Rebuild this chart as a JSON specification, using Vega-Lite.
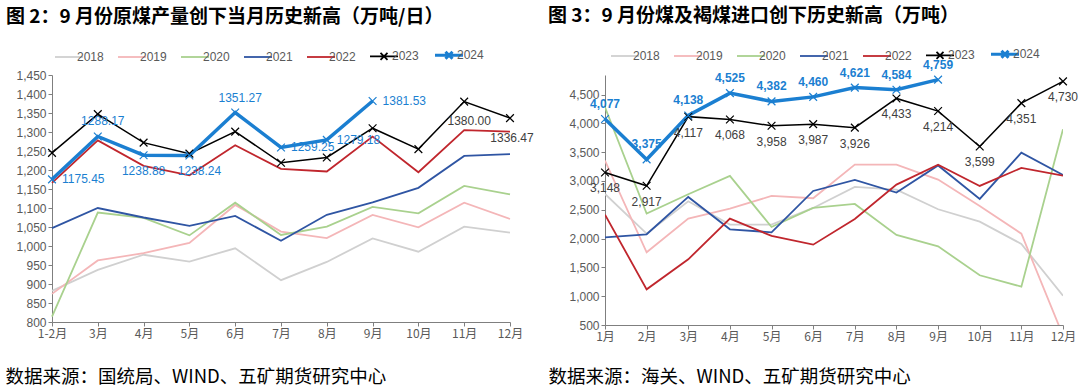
{
"$schema": "https://vega.github.io/schema/vega-lite/v6.json",
"padding": {"left": 5, "top": 7, "right": 0, "bottom": 0},
"background": "white",
"config": {"view": {"stroke": null}, "font": "Liberation Sans, Noto Sans CJK SC", "concat": {"spacing": 95}},
"resolve": {"scale": {"color": "independent", "x": "independent", "y": "independent"}, "legend": {"color": "independent"}},
"bounds": "flush",
"datasets": {
"prod": [
{"m":"1-2月","y":"2018","v":882},{"m":"3月","y":"2018","v":937},{"m":"4月","y":"2018","v":977},{"m":"5月","y":"2018","v":959},{"m":"6月","y":"2018","v":994},{"m":"7月","y":"2018","v":910},{"m":"8月","y":"2018","v":958},{"m":"9月","y":"2018","v":1020},{"m":"10月","y":"2018","v":985},{"m":"11月","y":"2018","v":1051},{"m":"12月","y":"2018","v":1035},
{"m":"1-2月","y":"2019","v":874},{"m":"3月","y":"2019","v":962},{"m":"4月","y":"2019","v":981},{"m":"5月","y":"2019","v":1008},{"m":"6月","y":"2019","v":1108},{"m":"7月","y":"2019","v":1038},{"m":"8月","y":"2019","v":1021},{"m":"9月","y":"2019","v":1082},{"m":"10月","y":"2019","v":1049},{"m":"11月","y":"2019","v":1114},{"m":"12月","y":"2019","v":1071},
{"m":"1-2月","y":"2020","v":814},{"m":"3月","y":"2020","v":1088},{"m":"4月","y":"2020","v":1074},{"m":"5月","y":"2020","v":1028},{"m":"6月","y":"2020","v":1114},{"m":"7月","y":"2020","v":1029},{"m":"8月","y":"2020","v":1051},{"m":"9月","y":"2020","v":1103},{"m":"10月","y":"2020","v":1086},{"m":"11月","y":"2020","v":1158},{"m":"12月","y":"2020","v":1136},
{"m":"1-2月","y":"2021","v":1047},{"m":"3月","y":"2021","v":1100},{"m":"4月","y":"2021","v":1075},{"m":"5月","y":"2021","v":1053},{"m":"6月","y":"2021","v":1079},{"m":"7月","y":"2021","v":1014},{"m":"8月","y":"2021","v":1082},{"m":"9月","y":"2021","v":1115},{"m":"10月","y":"2021","v":1153},{"m":"11月","y":"2021","v":1237},{"m":"12月","y":"2021","v":1242},
{"m":"1-2月","y":"2022","v":1166},{"m":"3月","y":"2022","v":1278},{"m":"4月","y":"2022","v":1211},{"m":"5月","y":"2022","v":1186},{"m":"6月","y":"2022","v":1265},{"m":"7月","y":"2022","v":1203},{"m":"8月","y":"2022","v":1196},{"m":"9月","y":"2022","v":1288},{"m":"10月","y":"2022","v":1194},{"m":"11月","y":"2022","v":1305},{"m":"12月","y":"2022","v":1301},
{"m":"1-2月","y":"2023","v":1245},{"m":"3月","y":"2023","v":1347},{"m":"4月","y":"2023","v":1272},{"m":"5月","y":"2023","v":1243},{"m":"6月","y":"2023","v":1301},{"m":"7月","y":"2023","v":1219},{"m":"8月","y":"2023","v":1233},{"m":"9月","y":"2023","v":1310},{"m":"10月","y":"2023","v":1255},{"m":"11月","y":"2023","v":1380.00},{"m":"12月","y":"2023","v":1336.47},
{"m":"1-2月","y":"2024","v":1175.45},{"m":"3月","y":"2024","v":1288.17},{"m":"4月","y":"2024","v":1238.88},{"m":"5月","y":"2024","v":1238.24},{"m":"6月","y":"2024","v":1351.27},{"m":"7月","y":"2024","v":1259.25},{"m":"8月","y":"2024","v":1279.18},{"m":"9月","y":"2024","v":1381.53}
],
"imp": [
{"m":"1月","y":"2018","v":2775},{"m":"2月","y":"2018","v":2086},{"m":"3月","y":"2018","v":2648},{"m":"4月","y":"2018","v":2242},{"m":"5月","y":"2018","v":2242},{"m":"6月","y":"2018","v":2532},{"m":"7月","y":"2018","v":2897},{"m":"8月","y":"2018","v":2850},{"m":"9月","y":"2018","v":2509},{"m":"10月","y":"2018","v":2295},{"m":"11月","y":"2018","v":1907},{"m":"12月","y":"2018","v":1009},
{"m":"1月","y":"2019","v":3354},{"m":"2月","y":"2019","v":1762},{"m":"3月","y":"2019","v":2347},{"m":"4月","y":"2019","v":2520},{"m":"5月","y":"2019","v":2740},{"m":"6月","y":"2019","v":2700},{"m":"7月","y":"2019","v":3284},{"m":"8月","y":"2019","v":3284},{"m":"9月","y":"2019","v":3024},{"m":"10月","y":"2019","v":2567},{"m":"11月","y":"2019","v":2086},{"m":"12月","y":"2019","v":316},
{"m":"1月","y":"2020","v":4280},{"m":"2月","y":"2020","v":2433},{"m":"3月","y":"2020","v":2769},{"m":"4月","y":"2020","v":3088},{"m":"5月","y":"2020","v":2202},{"m":"6月","y":"2020","v":2532},{"m":"7月","y":"2020","v":2601},{"m":"8月","y":"2020","v":2063},{"m":"9月","y":"2020","v":1866},{"m":"10月","y":"2020","v":1363},{"m":"11月","y":"2020","v":1166},{"m":"12月","y":"2020","v":3898},
{"m":"1月","y":"2021","v":2022},{"m":"2月","y":"2021","v":2075},{"m":"3月","y":"2021","v":2723},{"m":"4月","y":"2021","v":2161},{"m":"5月","y":"2021","v":2109},{"m":"6月","y":"2021","v":2827},{"m":"7月","y":"2021","v":3018},{"m":"8月","y":"2021","v":2798},{"m":"9月","y":"2021","v":3270},{"m":"10月","y":"2021","v":2688},{"m":"11月","y":"2021","v":3493},{"m":"12月","y":"2021","v":3105},
{"m":"1月","y":"2022","v":2416},{"m":"2月","y":"2022","v":1119},{"m":"3月","y":"2022","v":1640},{"m":"4月","y":"2022","v":2347},{"m":"5月","y":"2022","v":2046},{"m":"6月","y":"2022","v":1895},{"m":"7月","y":"2022","v":2341},{"m":"8月","y":"2022","v":2937},{"m":"9月","y":"2022","v":3284},{"m":"10月","y":"2022","v":2914},{"m":"11月","y":"2022","v":3227},{"m":"12月","y":"2022","v":3093},
{"m":"1月","y":"2023","v":3148},{"m":"2月","y":"2023","v":2917},{"m":"3月","y":"2023","v":4117},{"m":"4月","y":"2023","v":4068},{"m":"5月","y":"2023","v":3958},{"m":"6月","y":"2023","v":3987},{"m":"7月","y":"2023","v":3926},{"m":"8月","y":"2023","v":4433},{"m":"9月","y":"2023","v":4214},{"m":"10月","y":"2023","v":3599},{"m":"11月","y":"2023","v":4351},{"m":"12月","y":"2023","v":4730},
{"m":"1月","y":"2024","v":4077},{"m":"2月","y":"2024","v":3375},{"m":"3月","y":"2024","v":4138},{"m":"4月","y":"2024","v":4525},{"m":"5月","y":"2024","v":4382},{"m":"6月","y":"2024","v":4460},{"m":"7月","y":"2024","v":4621},{"m":"8月","y":"2024","v":4584},{"m":"9月","y":"2024","v":4759}
]
},
"hconcat": [
{
"width": 458, "height": 247,
"title": {"text": "图 2：9 月份原煤产量创下当月历史新高（万吨/日）", "anchor": "start", "frame": "group", "dx": -46, "offset": 22, "fontSize": 19, "fontWeight": "bold", "font": "Noto Sans CJK SC", "color": "#000000", "limit": 2000},
"data": {"name": "prod"},
"encoding": {
"x": {"field": "m", "type": "ordinal", "sort": ["1-2月","3月","4月","5月","6月","7月","8月","9月","10月","11月","12月"], "scale": {"type": "point", "padding": 0},
"axis": {"labelAngle": 0, "labelFontSize": 12, "labelColor": "#595959", "labelFont": "Noto Sans CJK SC", "domainColor": "#7f7f7f", "tickColor": "#7f7f7f", "tickSize": 4, "labelPadding": 2,
"title": "数据来源：国统局、WIND、五矿期货研究中心", "titleX": -47, "titleY": 60, "titleAlign": "left", "titleAnchor": "start", "titleBaseline": "alphabetic", "titleFontSize": 18.5, "titleFontWeight": "normal", "titleFont": "Noto Sans CJK SC", "titleColor": "#000000", "titleLimit": 2000}},
"y": {"field": "v", "type": "quantitative", "scale": {"domain": [800, 1450], "nice": false, "zero": false},
"axis": {"title": null, "values": [800,850,900,950,1000,1050,1100,1150,1200,1250,1300,1350,1400,1450], "format": ",.0f", "grid": false, "labelFontSize": 12, "labelColor": "#595959", "domainColor": "#7f7f7f", "tickColor": "#7f7f7f", "tickSize": 4}}
},
"layer": [
{"transform": [{"filter": "datum.y < '2023'"}], "mark": {"type": "line", "strokeWidth": 1.8},
 "encoding": {"color": {"field": "y", "type": "nominal", "scale": {"domain": ["2018","2019","2020","2021","2022","2023","2024"], "range": ["#d0d0d0","#f4b6b8","#a9d18e","#2f55a3","#c0262d","#000000","#1b7fd1"]},
 "legend": {"title": null, "orient": "none", "direction": "horizontal", "legendX": 11, "legendY": -26, "symbolType": "stroke", "symbolSize": 784, "symbolStrokeWidth": 1.8, "labelFontSize": 12, "labelColor": "#595959", "labelOffset": 2, "columnPadding": 10,
 "encode": {"symbols": {"update": {"shape": {"signal": "(datum.value==='2023'||datum.value==='2024') ? 'M-1,0L1,0M-0.25,-0.25L0.25,0.25M0.25,-0.25L-0.25,0.25' : 'M-1,0L1,0'"}, "strokeWidth": {"signal": "datum.value==='2024' ? 3 : 1.8"}, "fill": {"value": "transparent"}}}}}}}},
{"transform": [{"filter": "datum.y == '2023'"}], "mark": {"type": "line", "strokeWidth": 1.5}, "encoding": {"color": {"field": "y", "type": "nominal"}}},
{"transform": [{"filter": "datum.y == '2024'"}], "mark": {"type": "line", "strokeWidth": 3.5}, "encoding": {"color": {"field": "y", "type": "nominal"}}},
{"transform": [{"filter": "datum.y >= '2023'"}], "mark": {"type": "point", "shape": "M-1,-1L1,1M1,-1L-1,1", "filled": false, "size": 60, "strokeWidth": 1.2, "opacity": 1}, "encoding": {"color": {"field": "y", "type": "nominal"}}},
{"transform": [{"filter": "datum.y == '2024' && (datum.m=='1-2月'||datum.m=='7月'||datum.m=='8月'||datum.m=='9月')"}], "mark": {"type": "text", "align": "left", "dx": 10, "dy": 0, "fontSize": 12, "color": "#1b7fd1", "font": "Liberation Sans"}, "encoding": {"text": {"field": "v", "format": ".2f"}}},
{"transform": [{"filter": "datum.y == '2024' && (datum.m=='3月'||datum.m=='6月')"}], "mark": {"type": "text", "align": "center", "dx": 5, "dy": -15, "fontSize": 12, "color": "#1b7fd1", "font": "Liberation Sans"}, "encoding": {"text": {"field": "v", "format": ".2f"}}},
{"transform": [{"filter": "datum.y == '2024' && datum.m=='4月'"}], "mark": {"type": "text", "align": "center", "dx": 0, "dy": 16, "fontSize": 12, "color": "#1b7fd1", "font": "Liberation Sans"}, "encoding": {"text": {"field": "v", "format": ".2f"}}},
{"transform": [{"filter": "datum.y == '2024' && datum.m=='5月'"}], "mark": {"type": "text", "align": "center", "dx": 10, "dy": 16, "fontSize": 12, "color": "#1b7fd1", "font": "Liberation Sans"}, "encoding": {"text": {"field": "v", "format": ".2f"}}},
{"transform": [{"filter": "datum.y == '2023' && datum.m=='11月'"}], "mark": {"type": "text", "align": "center", "dx": 5, "dy": 19, "fontSize": 12, "color": "#404040", "font": "Liberation Sans"}, "encoding": {"text": {"field": "v", "format": ".2f"}}},
{"transform": [{"filter": "datum.y == '2023' && datum.m=='12月'"}], "mark": {"type": "text", "align": "center", "dx": 2, "dy": 20, "fontSize": 12, "color": "#404040", "font": "Liberation Sans"}, "encoding": {"text": {"field": "v", "format": ".2f"}}}
]
},
{
"width": 458, "height": 250,
"title": {"text": "图 3：9 月份煤及褐煤进口创下历史新高（万吨）", "anchor": "start", "frame": "group", "dx": -57, "offset": 22, "fontSize": 19, "fontWeight": "bold", "font": "Noto Sans CJK SC", "color": "#000000", "limit": 2000},
"data": {"name": "imp"},
"encoding": {
"x": {"field": "m", "type": "ordinal", "sort": ["1月","2月","3月","4月","5月","6月","7月","8月","9月","10月","11月","12月"], "scale": {"type": "point", "padding": 0},
"axis": {"labelAngle": 0, "labelFontSize": 12, "labelColor": "#595959", "labelFont": "Noto Sans CJK SC", "domainColor": "#7f7f7f", "tickColor": "#7f7f7f", "tickSize": 4, "labelPadding": 2,
"title": "数据来源：海关、WIND、五矿期货研究中心", "titleX": -57, "titleY": 57, "titleAlign": "left", "titleAnchor": "start", "titleBaseline": "alphabetic", "titleFontSize": 18.5, "titleFontWeight": "normal", "titleFont": "Noto Sans CJK SC", "titleColor": "#000000", "titleLimit": 2000}},
"y": {"field": "v", "type": "quantitative", "scale": {"domain": [500, 4840], "nice": false, "zero": false},
"axis": {"title": null, "values": [500,1000,1500,2000,2500,3000,3500,4000,4500], "format": ",.0f", "grid": false, "labelFontSize": 12, "labelColor": "#595959", "domainColor": "#7f7f7f", "tickColor": "#7f7f7f", "tickSize": 4}}
},
"layer": [
{"transform": [{"filter": "datum.y < '2023'"}], "mark": {"type": "line", "strokeWidth": 1.8, "clip": true},
 "encoding": {"color": {"field": "y", "type": "nominal", "scale": {"domain": ["2018","2019","2020","2021","2022","2023","2024"], "range": ["#d0d0d0","#f4b6b8","#a9d18e","#2f55a3","#c0262d","#000000","#1b7fd1"]},
 "legend": {"title": null, "orient": "none", "direction": "horizontal", "legendX": 14, "legendY": -27, "symbolType": "stroke", "symbolSize": 784, "symbolStrokeWidth": 1.8, "labelFontSize": 12, "labelColor": "#595959", "labelOffset": 2, "columnPadding": 10,
 "encode": {"symbols": {"update": {"shape": {"signal": "(datum.value==='2023'||datum.value==='2024') ? 'M-1,0L1,0M-0.25,-0.25L0.25,0.25M0.25,-0.25L-0.25,0.25' : 'M-1,0L1,0'"}, "strokeWidth": {"signal": "datum.value==='2024' ? 3 : 1.8"}, "fill": {"value": "transparent"}}}}}}}},
{"transform": [{"filter": "datum.y == '2023'"}], "mark": {"type": "line", "strokeWidth": 1.5}, "encoding": {"color": {"field": "y", "type": "nominal"}}},
{"transform": [{"filter": "datum.y == '2024'"}], "mark": {"type": "line", "strokeWidth": 3.5}, "encoding": {"color": {"field": "y", "type": "nominal"}}},
{"transform": [{"filter": "datum.y >= '2023'"}], "mark": {"type": "point", "shape": "M-1,-1L1,1M1,-1L-1,1", "filled": false, "size": 60, "strokeWidth": 1.2, "opacity": 1}, "encoding": {"color": {"field": "y", "type": "nominal"}}},
{"transform": [{"filter": "datum.y == '2024'"}], "mark": {"type": "text", "align": "center", "dy": -15, "fontSize": 12, "fontWeight": "bold", "color": "#1b7fd1"}, "encoding": {"text": {"field": "v", "format": ",.0f"}}},
{"transform": [{"filter": "datum.y == '2023'"}], "mark": {"type": "text", "align": "center", "dy": 16, "fontSize": 12, "color": "#404040"}, "encoding": {"text": {"field": "v", "format": ",.0f"}}}
]
}
]
}
